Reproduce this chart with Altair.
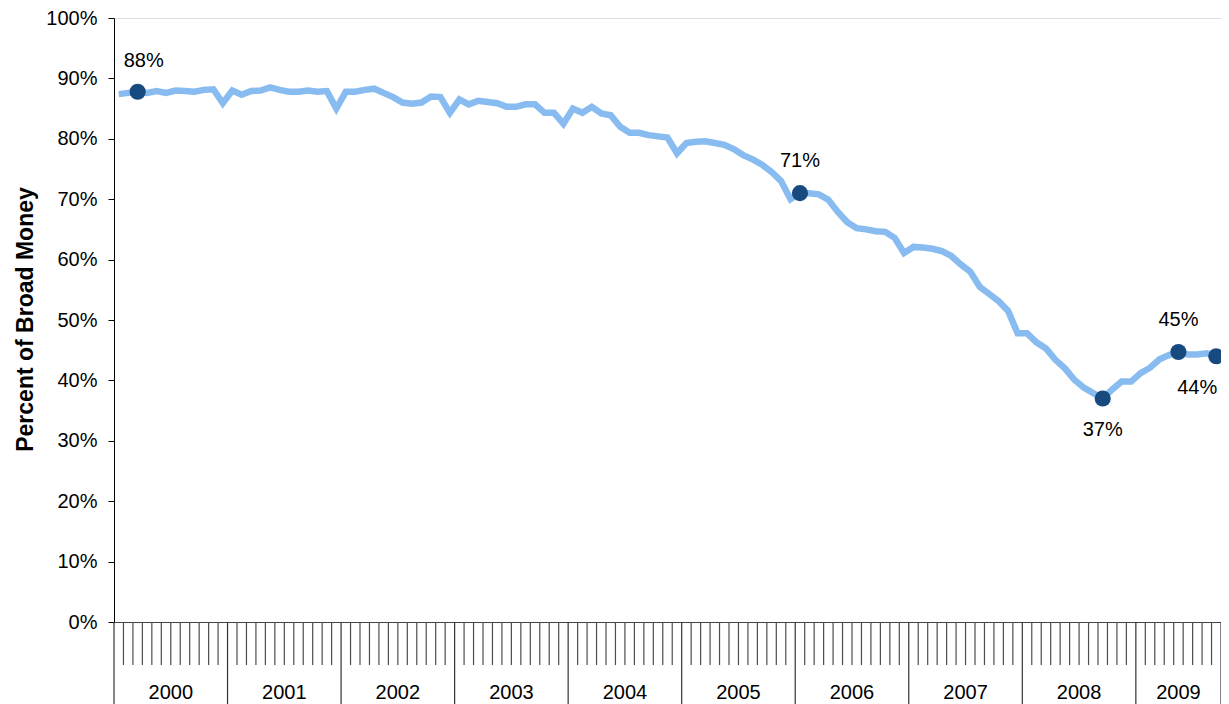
import altair as alt
import pandas as pd

# ---- data ----
years = [2000, 2001, 2002, 2003, 2004, 2005, 2006, 2007, 2008, 2009]
months_per_year = [12, 12, 12, 12, 12, 12, 12, 12, 12, 9]

# monthly share (percent of broad money), Jan 2000 .. Sep 2009
share = [
    87.4, 87.6, 87.8, 87.6, 87.9, 87.6, 88.0, 87.9, 87.8, 88.1, 88.2, 85.9,  # 2000
    88.0, 87.3, 87.9, 88.0, 88.5, 88.1, 87.8, 87.8, 88.0, 87.8, 87.9, 85.0,  # 2001
    87.8, 87.8, 88.1, 88.3, 87.6, 86.9, 86.0, 85.8, 86.0, 87.0, 86.9, 84.3,  # 2002
    86.5, 85.7, 86.3, 86.1, 85.9, 85.3, 85.3, 85.7, 85.7, 84.3, 84.3, 82.5,  # 2003
    85.0, 84.3, 85.3, 84.2, 83.9, 82.0, 81.0, 81.0, 80.6, 80.4, 80.2, 77.6,  # 2004
    79.3, 79.5, 79.6, 79.3, 79.0, 78.3, 77.3, 76.6, 75.7, 74.5, 73.0, 70.0,  # 2005
    71.0, 71.0, 70.8, 69.9, 67.9, 66.2, 65.2, 65.0, 64.7, 64.6, 63.6, 61.1,  # 2006
    62.1, 62.0, 61.8, 61.4, 60.6, 59.2, 58.0, 55.5, 54.3, 53.1, 51.5, 47.8,  # 2007
    47.8, 46.3, 45.3, 43.4, 42.0, 40.1, 38.8, 37.9, 37.0, 38.5, 39.8, 39.8,  # 2008
    41.2, 42.1, 43.5, 44.2, 44.7, 44.3, 44.3, 44.5, 44.0,                    # 2009
]

# highlighted points (month index from Jan 2000) and where their label sits
label_months = [2, 72, 104, 112, 116]
label_side = ["above-right", "above", "below", "above", "below-left"]

y_ticks = [0.0, 0.1, 0.2, 0.3, 0.4, 0.5, 0.6, 0.7, 0.8, 0.9, 1.0]

# ---- tables built from the arrays ----
n = len(share)
line_df = pd.DataFrame({"m": [i + 0.5 for i in range(n)],
                        "v": [s / 100 for s in share]})

pts_df = pd.DataFrame({"m": [i + 0.5 for i in label_months],
                       "v": [share[i] / 100 for i in label_months],
                       "side": label_side})

bounds = [0]
for c in months_per_year:
    bounds.append(bounds[-1] + c)
bounds_df = pd.DataFrame({"b": bounds})
month_ticks_df = pd.DataFrame({"t": [t for t in range(1, bounds[-1]) if t not in bounds]})
years_df = pd.DataFrame({"year": [str(y) for y in years],
                         "c": [bounds[k] + months_per_year[k] / 2 for k in range(len(years))]})

FONT = "Liberation Sans"
W, H = 1107, 604
xscale = alt.Scale(domain=[0, bounds[-1]], nice=False, zero=False)
yscale = alt.Scale(domain=[0, 1], nice=False)

x_axis = alt.Axis(values=[0], labels=False, ticks=False, domainColor="#444444",
                  grid=False, title=None)
y_axis = alt.Axis(values=y_ticks, format=".0%", labelFont=FONT, labelFontSize=20,
                  labelColor="black", labelPadding=11, tickSize=6, tickColor="black",
                  domainColor="black", grid=False,
                  title="Percent of Broad Money", titleFont=FONT, titleFontSize=23,
                  titleFontWeight="bold", titleColor="black", titleAngle=270,
                  titleX=-82, titleY=301, titleAlign="center", titleBaseline="alphabetic")

line = alt.Chart(line_df).mark_line(color="#88BCF0", strokeWidth=6.5, strokeJoin="miter").encode(
    x=alt.X("m:Q", scale=xscale, axis=x_axis),
    y=alt.Y("v:Q", scale=yscale, axis=y_axis),
)

dots = alt.Chart(pts_df).mark_circle(color="#174B7F", size=260, opacity=1).encode(
    x=alt.X("m:Q", scale=xscale),
    y=alt.Y("v:Q", scale=yscale),
)

def labels(side, dx, dy, align):
    return alt.Chart(pts_df).transform_filter(alt.datum.side == side).mark_text(
        font=FONT, fontSize=20, color="black", dx=dx, dy=dy, align=align, baseline="middle"
    ).encode(
        x=alt.X("m:Q", scale=xscale),
        y=alt.Y("v:Q", scale=yscale),
        text=alt.Text("v:Q", format=".0%"),
    )

lab_ar = labels("above-right", 6, -31, "center")
lab_a = labels("above", 0, -32, "center")
lab_b = labels("below", 0, 31, "center")
lab_bl = labels("below-left", 1, 32, "right")

month_ticks = alt.Chart(month_ticks_df).mark_rule(color="#4d4d4d", strokeWidth=1.2).encode(
    x=alt.X("t:Q", scale=xscale),
    y=alt.value(H),
    y2=alt.value(H + 43),
)

year_rules = alt.Chart(bounds_df).mark_rule(color="#333333", strokeWidth=1.2).encode(
    x=alt.X("b:Q", scale=xscale),
    y=alt.value(H),
    y2=alt.value(H + 90),
)

year_text = alt.Chart(years_df).mark_text(font=FONT, fontSize=20, color="black",
                                          baseline="middle").encode(
    x=alt.X("c:Q", scale=xscale),
    y=alt.value(H + 71),
    text="year:N",
)

chart = alt.layer(line, month_ticks, year_rules, dots, lab_ar, lab_a, lab_b, lab_bl,
                  year_text).properties(
    width=W, height=H,
    autosize=alt.AutoSizeParams(type="none"),
    padding={"left": 106, "top": 10, "right": 0, "bottom": 82},
).configure_view(stroke=None).configure(background="white")

chart.save("out.html", embed_options={"renderer": "svg", "actions": False})
